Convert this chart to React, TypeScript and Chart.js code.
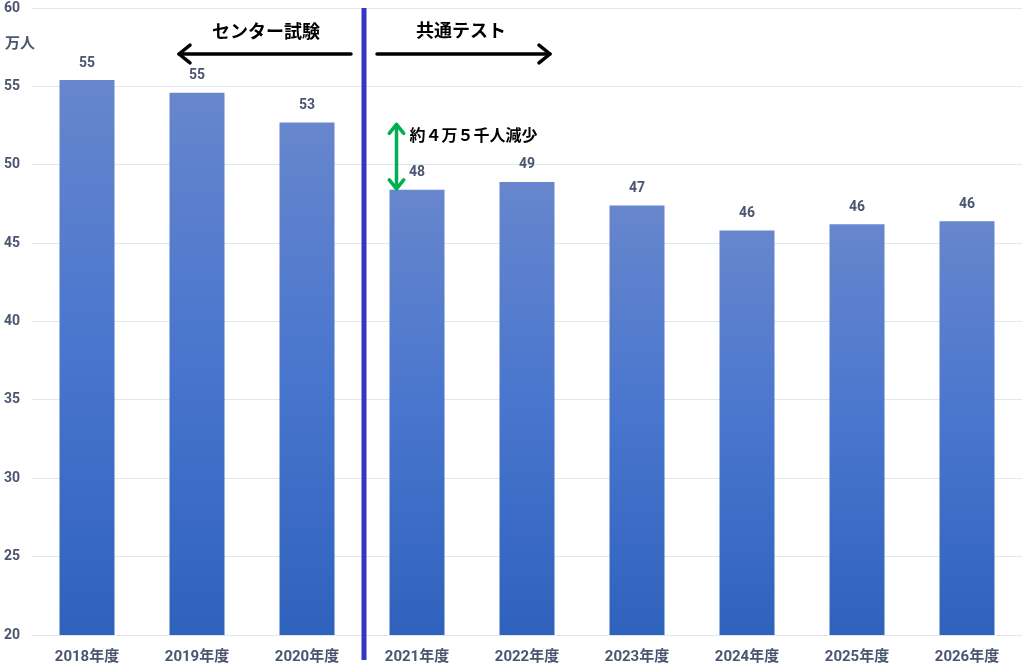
import React, { useEffect, useRef } from "react";
import { Chart, registerables } from "chart.js";

Chart.register(...registerables);

const categories = ["2018年度", "2019年度", "2020年度", "2021年度", "2022年度", "2023年度", "2024年度", "2025年度", "2026年度"];
const values = [55.4, 54.6, 52.7, 48.4, 48.9, 47.4, 45.8, 46.2, 46.4];
const valueLabels = ["55", "55", "53", "48", "49", "47", "46", "46", "46"];
const yTicks = [20, 25, 30, 35, 40, 45, 50, 55, 60];
const unitLabel = "万人";
const leftTitle = "センター試験";
const rightTitle = "共通テスト";
const diffLabel = "約４万５千人減少";

const FONT = "Roboto, 'Noto Sans CJK JP', sans-serif";
const TEXT_COLOR = "#4a5570";

function arrowHead(ctx: CanvasRenderingContext2D, x: number, y: number, dx: number, dy: number, size: number) {
  const px = -dy, py = dx;
  ctx.beginPath();
  ctx.moveTo(x - dx * size + px * size * 0.8, y - dy * size + py * size * 0.8);
  ctx.lineTo(x, y);
  ctx.lineTo(x - dx * size - px * size * 0.8, y - dy * size - py * size * 0.8);
  ctx.stroke();
}

const annotations = {
  id: "annotations",
  afterDatasetsDraw(chart: any) {
    const { ctx, chartArea, scales } = chart;
    const xs = scales.x, ys = scales.y;
    const meta = chart.getDatasetMeta(0);
    ctx.save();
    ctx.fillStyle = TEXT_COLOR;
    ctx.font = `bold 14px ${FONT}`;
    ctx.textAlign = "center";
    ctx.textBaseline = "middle";
    meta.data.forEach((bar: any, i: number) => {
      ctx.fillText(valueLabels[i], bar.x, bar.y - 17);
    });
    ctx.textAlign = "left";
    ctx.font = `bold 15px 'Noto Sans CJK JP', sans-serif`;
    ctx.fillText(unitLabel, 5, 42);

    const divX = (xs.getPixelForValue(2) + xs.getPixelForValue(3)) / 2 + 2;
    ctx.strokeStyle = "#3535c8";
    ctx.lineWidth = 5;
    ctx.beginPath();
    ctx.moveTo(divX, chartArea.top);
    ctx.lineTo(divX, chartArea.bottom + 25);
    ctx.stroke();

    const ay = chartArea.top + 46;
    ctx.strokeStyle = "#000";
    ctx.lineWidth = 3.5;
    ctx.lineCap = "round";
    ctx.lineJoin = "round";
    const lStart = divX - 13, lEnd = xs.getPixelForValue(1) - 18;
    ctx.beginPath();
    ctx.moveTo(lStart, ay);
    ctx.lineTo(lEnd, ay);
    ctx.stroke();
    arrowHead(ctx, lEnd, ay, -1, 0, 11);
    const rStart = divX + 13, rEnd = xs.getPixelForValue(4) + 23;
    ctx.beginPath();
    ctx.moveTo(rStart, ay);
    ctx.lineTo(rEnd, ay);
    ctx.stroke();
    arrowHead(ctx, rEnd, ay, 1, 0, 11);

    ctx.fillStyle = "#000";
    ctx.font = `bold 18px 'Noto Sans CJK JP', sans-serif`;
    ctx.textAlign = "center";
    ctx.fillText(leftTitle, 266, chartArea.top + 23);
    ctx.fillText(rightTitle, 461, chartArea.top + 22);

    const b3 = meta.data[3];
    const gx = b3.x - b3.width / 2 + 7;
    const gTop = ys.getPixelForValue(values[2]) + 2;
    const gBot = ys.getPixelForValue(values[3]) - 1;
    ctx.strokeStyle = "#00b050";
    ctx.lineWidth = 3.5;
    ctx.beginPath();
    ctx.moveTo(gx, gTop);
    ctx.lineTo(gx, gBot);
    ctx.stroke();
    arrowHead(ctx, gx, gTop, 0, -1, 9);
    arrowHead(ctx, gx, gBot, 0, 1, 9);

    ctx.fillStyle = "#000";
    ctx.font = `bold 16px 'Noto Sans CJK JP', sans-serif`;
    ctx.textAlign = "left";
    ctx.fillText(diffLabel, gx + 13, gTop + 10);
    ctx.restore();
  },
};

export default function App() {
  const ref = useRef<HTMLCanvasElement>(null);
  useEffect(() => {
    document.body.style.margin = "0";
    const canvas = ref.current!;
    const chart = new Chart(canvas, {
      type: "bar",
      data: {
        labels: categories,
        datasets: [
          {
            data: values,
            backgroundColor: (c: any) => {
              const ch = c.chart;
              const area = ch.chartArea;
              if (!area || c.dataIndex === undefined) return "#4a74c9";
              const top = ch.scales.y.getPixelForValue(values[c.dataIndex]);
              const g = ch.ctx.createLinearGradient(0, top, 0, area.bottom);
              g.addColorStop(0, "rgb(103,134,205)");
              g.addColorStop(0.5, "rgb(72,117,206)");
              g.addColorStop(1, "rgb(47,98,188)");
              return g;
            },
            borderWidth: 0,
            barPercentage: 0.5,
            categoryPercentage: 1,
          },
        ],
      },
      options: {
        responsive: false,
        animation: false,
        layout: { padding: { top: 8, right: 2, left: 0, bottom: 0 } },
        plugins: { legend: { display: false }, tooltip: { enabled: false }, title: { display: false } },
        scales: {
          x: {
            grid: { display: false },
            border: { display: false },
            ticks: { color: TEXT_COLOR, font: { family: FONT, size: 15, weight: "bold" }, padding: 5, maxRotation: 0 },
            afterFit: (s: any) => { s.height = 34; s.paddingLeft = 0; s.paddingRight = 0; },
          },
          y: {
            min: 20,
            max: 60,
            afterBuildTicks: (s: any) => { s.ticks = yTicks.map((v) => ({ value: v })); },
            grid: { color: "#e2e6ee", lineWidth: 1, drawTicks: false },
            border: { display: false },
            ticks: { color: TEXT_COLOR, font: { family: FONT, size: 14, weight: "bold" }, padding: 12 },
            afterFit: (s: any) => { s.width = 32; s.paddingTop = 0; s.paddingBottom = 0; },
          },
        },
      },
      plugins: [annotations],
    });
    return () => chart.destroy();
  }, []);
  return <canvas ref={ref} width={1024} height={669} style={{ display: "block" }} />;
}
